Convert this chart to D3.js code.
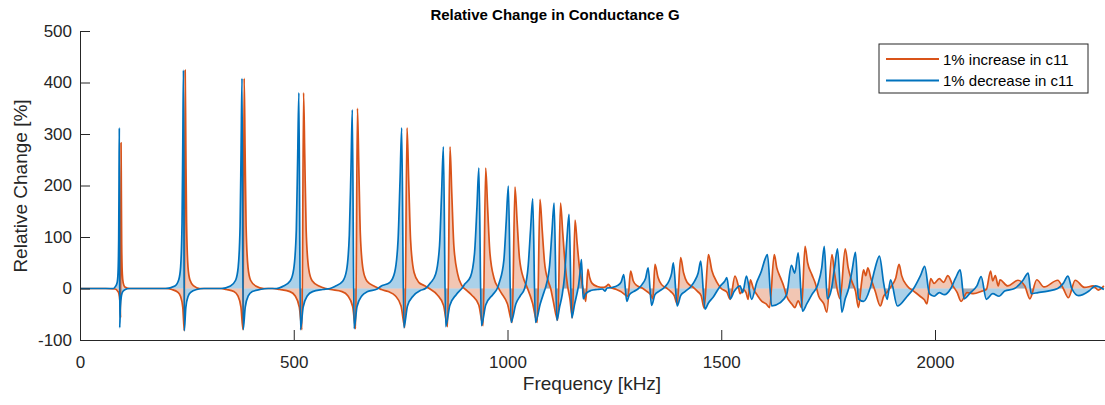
<!DOCTYPE html>
<html>
<head>
<meta charset="utf-8">
<script src="https://cdn.jsdelivr.net/npm/d3@7"></script>
<style>
  body { margin: 0; background: #fff; }
  svg { display: block; font-family: "Liberation Sans", Arial, sans-serif; }
</style>
</head>
<body>
<div id="chart"></div>
<script>
// Relative change in conductance G
const chartTitle = 'Relative Change in Conductance G';
const xLabel = 'Frequency [kHz]';
const yLabel = 'Relative Change [%]';
const seriesNames = ['1% increase in c11', '1% decrease in c11'];
const xTicks = [0, 500, 1000, 1500, 2000];
const yTicks = [-100, 0, 100, 200, 300, 400, 500];

// [frequency kHz, relative change %]
const increaseC11 = [
  [0,0],[60,0],[82,-1],[88,-5],[91,-10],[93.5,-26],[95.1,-57],[96,283],[96.7,190],[97.5,85],[99,28],[101,11],[105,3],[115,0],
  [200,0],[215,-2],[228.4,-7],[235,-15],[240.5,-37],[244,-82],[246,424],[247.5,284],[249.3,127],[252.6,42],[257,17],[266,5],[280,0],
  [330,0],[342,-2],[360,-6],[369,-14],[376.5,-36],[381.3,-80],[384,408],[386.1,273],[388.5,122],[393,41],[399,16],[411,5],[430,0],
  [450,0],[467,-2],[491,-6],[503,-14],[513,-36],[519.4,-80],[523,380],[525.8,255],[529,114],[535,38],[543,15],[559,5],[575,0],
  [586,-2],[613,-6],[626.5,-14],[637.8,-35],[645,-78],[649,350],[652.2,235],[655.8,105],[662.5,35],[671.5,14],[689.5,4],[700,0],
  [705,-2],[721,-6],[737.5,-14],[751,-34],[760,-76],[765,312],[768.9,209],[773.3,94],[781.5,31],[792.5,12],[805,6],[817,0],
  [835.5,-12],[850.5,-33],[860,-74],[865.5,275],[869.7,184],[874.5,83],[883.5,28],[893,6],[905,-4],[916.5,-13],[932.8,-32],
  [943,-72],[949,234],[953.5,157],[958.8,70],[968.5,20],[978,2],[985,-8],[1000,-30],[1011,-66],[1017.5,197],[1022.4,132],
  [1028,59],[1038.5,17],[1046,2],[1058.5,-28],[1069.7,-66],[1076,173],[1081,116],[1086.5,52],[1095,15],[1101,0],[1106.5,-22],
  [1117.7,-62],[1124,166],[1129,111],[1134.5,50],[1140.5,5],[1146,-20],[1151.7,-57],[1158,133],[1163,87],[1168.5,40],[1174,12],
  [1178,-5],[1183,-25],[1188,37],[1192,22],[1198,10],[1210,4],
  [1225,2],[1232,5],[1236,8],[1242,2],[1255,-2],[1265,-6],[1275,-12],[1282,-15],[1288,34],[1294,15],[1302,6],[1315,1],[1325,-5],
  [1335,-12],[1340,-20],[1345,47],[1352,22],[1360,8],[1372,1],[1382,-6],[1390,-14],[1397,-30],[1405,60],[1412,30],[1420,12],
  [1435,2],[1445,-6],[1453,-14],[1460,-38],[1470,66],[1478,35],[1490,12],[1500,0],[1513,-7],[1521,-21],[1532,24],[1540,5],
  [1544,-10],[1552,-2],[1558,-8],[1563,-21],[1568,17],[1575,0],[1585,-14],[1595,-25],[1605,-30],[1613,-37],[1624,66],[1630,40],
  [1638,22],[1646,5],[1653,-15],[1665,-30],[1672,-37],[1680,-24],[1688,-37],[1696,82],[1702,50],[1712,27],[1720,10],[1728,-15],
  [1740,-30],[1747,-46],[1759,66],[1765,30],[1772,-5],[1778,-20],[1790,77],[1797,40],[1805,15],[1814,-5],[1821,-37],[1828,10],
  [1833,36],[1838,25],[1843,40],[1850,20],[1860,-5],[1872,-34],[1880,-15],[1890,-5],[1898,5],[1908,20],[1916,47],[1922,25],
  [1935,5],[1950,-5],[1965,-15],[1975,-22],[1981,-30],[1990,19],[1998,10],[2010,19],[2020,12],[2030,25],[2042,5],[2052,-8],
  [2061,-25],[2075,-8],[2090,-10],[2110,-5],[2120,-2],[2130,34],[2135,15],[2141,25],[2148,5],[2152,17],[2170,5],[2194,16],
  [2210,5],[2222,-20],[2238,17],[2255,3],[2287,16],[2300,0],[2312,-18],[2328,16],[2350,2],[2370,5],[2382,-3],[2395,5]
];

const decreaseC11 = [
  [0,0],[60,0],[78,0],[83,4],[87,12],[89,31],[90.5,94],[91.3,209],[92,312],[92.9,-76],[94.5,-34],[97,-14],[100,-6],[106,-2],[115,0],
  [200,0],[222,5],[231,17],[235.4,42],[238.7,127],[240.5,284],[242,424],[244,-82],[247.5,-37],[253,-15],[259.6,-7],[273,-2],[290,0],
  [330,0],[352,5],[364,16],[370,41],[374.5,122],[376.9,273],[379,408],[381.7,-80],[386.5,-36],[394,-14],[403,-6],[421,-2],[440,0],
  [460,0],[476,5],[492,15],[500,38],[506,114],[509.2,255],[512,380],[515.6,-80],[522,-36],[532,-14],[544,-6],[568,-2],[585,0],
  [596,4],[614.5,14],[623.5,35],[630,104],[633.9,232],[637,347],[641,-78],[648,-35],[659.5,-14],[673,-6],[695,-1],
  [703,4],[725,12],[736,31],[744,94],[748.6,209],[752.5,312],[757.5,-76],[766,-34],[780,-14],[796,-4],[808,0],
  [820,11],[832,28],[841,83],[845.8,184],[850,275],[855.4,-74],[865,-33],[880,-12],[893,0],
  [900.5,9],[913.5,23],[923,70],[928.5,157],[933,234],[938.9,-72],[949,-32],[965.5,-12],[976,0],
  [981,12],[991.5,55],[997,130],[1002,199],[1008.3,-66],[1019.5,-30],[1030,-14],[1040,0],
  [1048.5,45],[1054,115],[1059,174],[1065.3,-66],[1076.5,-30],[1085,-8],[1090,5],
  [1098.5,45],[1104,110],[1109,166],[1115.3,-62],[1122,-35],[1128,-12],
  [1133.5,25],[1139,96],[1144,144],[1150.3,-57],[1157,-30],[1163,-8],[1166,5],[1169.5,30],[1173,56],[1177,-20],[1183,-10],
  [1195,-4],[1210,-2],[1222,-1],[1228,-5],[1233,1],[1245,2],[1258,6],[1266,13],[1272,27],[1279,-25],[1285,-12],[1295,-6],
  [1305,-1],[1315,8],[1323,20],[1329,40],[1337,-33],[1345,-12],[1355,-5],[1368,3],[1378,15],[1384,30],[1388,50],[1397,-34],
  [1405,-14],[1415,-6],[1428,3],[1438,15],[1446,30],[1452,53],[1462,-40],[1470,-28],[1481,-17],[1497,4],[1508,14],[1513,21],
  [1521,-20],[1530,-6],[1544,5],[1550,-8],[1559,24],[1571,-21],[1583,12],[1594,34],[1602,56],[1608,66],[1618,-34],[1637,-28],
  [1653,-12],[1664,45],[1672,30],[1680,69],[1690,-44],[1700,-30],[1712,-12],[1726,8],[1735,40],[1741,82],[1748,-20],[1758,0],
  [1765,40],[1772,77],[1782,-46],[1790,-20],[1798,0],[1806,35],[1814,70],[1821,-20],[1833,-25],[1848,0],[1860,40],[1870,63],
  [1880,10],[1888,-21],[1896,17],[1912,-34],[1935,-15],[1950,0],[1966,25],[1976,43],[1987,-10],[1998,-15],[2010,-8],[2022,-12],
  [2037,0],[2048,20],[2059,36],[2068,-20],[2083,-8],[2098,5],[2108,23],[2120,-21],[2135,-10],[2150,-15],[2163,-5],[2186,0],
  [2205,15],[2218,30],[2225,-10],[2241,-8],[2264,-5],[2287,0],[2300,10],[2311,24],[2320,0],[2336,-14],[2360,-5],[2375,5],[2395,-2]
];

const colors = ['#D95319', '#0072BD'];

const W = 1105, H = 405;
const m = { left: 80, top: 31, right: 1106, bottom: 340 };

const svg = d3.select('#chart').append('svg').attr('width', W).attr('height', H);

const x = d3.scaleLinear().domain([0, 2400]).range([m.left, m.right]);
const y = d3.scaleLinear().domain([-100, 500]).range([m.bottom, m.top]);

const plot = svg.append('g');
const series = [increaseC11, decreaseC11];

const area = d3.area().x(d => x(d[0])).y0(y(0)).y1(d => y(d[1])).curve(d3.curveMonotoneX);
const line = d3.line().x(d => x(d[0])).y(d => y(d[1])).curve(d3.curveMonotoneX);

// shaded areas first, then the lines on top
series.forEach((s, i) => {
  plot.append('path').attr('d', area(s)).attr('fill', colors[i]).attr('fill-opacity', 0.33).attr('stroke', 'none');
});
series.forEach((s, i) => {
  plot.append('path').attr('d', line(s)).attr('fill', 'none').attr('stroke', colors[i])
    .attr('stroke-width', 1.7).attr('stroke-linejoin', 'round');
});

// axes, MATLAB style: ticks inside, no box, plain hyphen for negatives
const axisColor = '#262626';
const fmt = d => String(d);
const xAxis = svg.append('g').attr('transform', `translate(0,${m.bottom})`)
  .call(d3.axisBottom(x).tickValues(xTicks).tickSize(-10).tickPadding(16).tickFormat(fmt));
const yAxis = svg.append('g').attr('transform', `translate(${m.left},0)`)
  .call(d3.axisLeft(y).tickValues(yTicks).tickSize(-10).tickPadding(8).tickFormat(fmt));
[xAxis, yAxis].forEach(a => {
  a.select('.domain').attr('stroke', axisColor);
  a.selectAll('.tick line').attr('stroke', axisColor);
  a.selectAll('.tick text').attr('fill', axisColor).style('font-size', '17px');
});

svg.append('text').attr('x', 555).attr('y', 20).attr('text-anchor', 'middle')
  .style('font-size', '15px').style('font-weight', 'bold').attr('fill', '#000').text(chartTitle);
svg.append('text').attr('x', 592).attr('y', 390).attr('text-anchor', 'middle')
  .style('font-size', '19px').attr('fill', axisColor).text(xLabel);
svg.append('text').attr('transform', 'translate(27,186) rotate(-90)').attr('text-anchor', 'middle')
  .style('font-size', '19px').attr('fill', axisColor).text(yLabel);

// legend
const lg = svg.append('g').attr('transform', 'translate(879,44)');
lg.append('rect').attr('width', 209).attr('height', 49).attr('fill', '#fff').attr('stroke', axisColor).attr('stroke-width', 1);
seriesNames.forEach((n, i) => {
  const yy = 15 + i * 21.5;
  lg.append('line').attr('x1', 7).attr('x2', 60).attr('y1', yy).attr('y2', yy)
    .attr('stroke', colors[i]).attr('stroke-width', 2);
  lg.append('text').attr('x', 64).attr('y', yy + 5.5).style('font-size', '15px').attr('fill', '#000').text(n);
});
</script>
</body>
</html>
